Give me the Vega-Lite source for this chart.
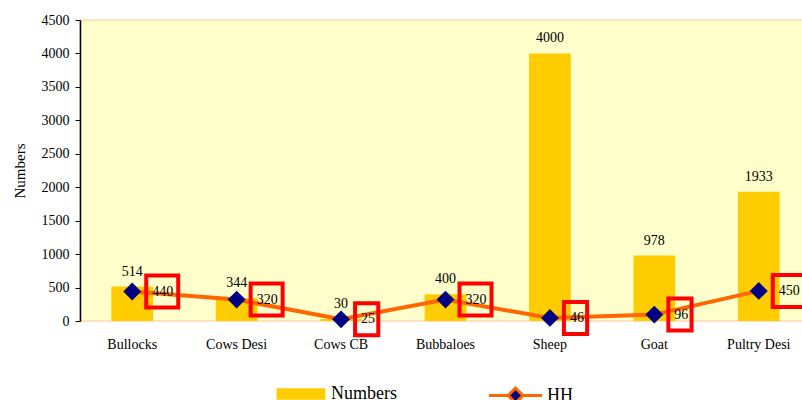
{
  "$schema": "https://vega.github.io/schema/vega-lite/v6.json",
  "width": 731,
  "height": 301,
  "autosize": {"type": "none"},
  "padding": {"left": 80, "top": 20, "right": 0, "bottom": 79},
  "background": "#FFFFFF",
  "config": {
    "font": "Liberation Serif",
    "view": {"fill": "#FFFFCC", "stroke": "#FFD9B0", "strokeWidth": 1.5},
    "axisY": {
      "titleFontSize": 15,
      "titleFontWeight": "normal",
      "titleColor": "#000000",
      "titlePadding": 14,
      "grid": false,
      "domainColor": "#000000",
      "domainWidth": 1.5,
      "tickColor": "#000000",
      "tickSize": 5,
      "tickCount": 10,
      "labelPadding": 6,
      "labelFontSize": 14,
      "labelColor": "#000000",
      "labelOverlap": false,
      "format": "d"
    }
  },
  "data": {
    "values": [
      {"cat": "Bullocks", "Numbers": 514, "HH": 440},
      {"cat": "Cows Desi", "Numbers": 344, "HH": 320},
      {"cat": "Cows CB", "Numbers": 30, "HH": 25},
      {"cat": "Bubbaloes", "Numbers": 400, "HH": 320},
      {"cat": "Sheep", "Numbers": 4000, "HH": 46},
      {"cat": "Goat", "Numbers": 978, "HH": 96},
      {"cat": "Pultry Desi", "Numbers": 1933, "HH": 450}
    ]
  },
  "encoding": {
    "x": {
      "field": "cat",
      "type": "nominal",
      "sort": null,
      "scale": {"paddingInner": 0.6, "paddingOuter": 0.3},
      "axis": {
        "title": null,
        "labelAngle": 0,
        "domain": false,
        "ticks": false,
        "tickSize": 0,
        "labelPadding": 16,
        "labelFontSize": 14,
        "labelColor": "#000000"
      }
    }
  },
  "layer": [
    {
      "mark": {"type": "bar"},
      "encoding": {
        "y": {
          "field": "Numbers",
          "type": "quantitative",
          "scale": {"domain": [0, 4500], "nice": false},
          "axis": {"title": "Numbers"}
        },
        "fill": {
          "datum": "Numbers",
          "scale": {"range": ["#FFCC00"]},
          "legend": {
            "title": null,
            "orient": "none",
            "legendX": 210,
            "legendY": 363,
            "symbolType": "M-2.3,-0.55H2.3V0.55H-2.3Z",
            "symbolSize": 450,
            "symbolStrokeWidth": 0,
            "labelOffset": 19,
            "labelFontSize": 18,
            "labelColor": "#000000",
            "labelFont": "Liberation Serif"
          }
        }
      }
    },
    {
      "mark": {"type": "line", "strokeWidth": 4},
      "encoding": {
        "y": {"field": "HH", "type": "quantitative", "axis": {"title": "Numbers"}},
        "stroke": {
          "datum": "HH",
          "scale": {"range": ["#FF6600"]},
          "legend": {
            "title": null,
            "orient": "none",
            "legendX": 423,
            "legendY": 363,
            "symbolType": "M-2.5,0H-0.7M0.7,0H2.5M0,-0.7L0.7,0L0,0.7L-0.7,0Z",
            "symbolSize": 450,
            "symbolStrokeWidth": 3,
            "labelOffset": 19,
            "labelFontSize": 18,
            "labelColor": "#000000",
            "labelFont": "Liberation Serif",
            "encode": {"symbols": {"update": {"fill": {"value": "#000080"}}}}
          }
        }
      }
    },
    {
      "mark": {"type": "point", "shape": "diamond", "filled": true, "size": 320, "color": "#000080", "opacity": 1},
      "encoding": {"y": {"field": "HH", "type": "quantitative", "axis": {"title": "Numbers"}}}
    },
    {
      "mark": {"type": "text", "align": "center", "baseline": "alphabetic", "dy": -11, "fontSize": 14, "color": "#000000"},
      "encoding": {
        "y": {"field": "Numbers", "type": "quantitative", "axis": {"title": "Numbers"}},
        "text": {"field": "Numbers", "type": "quantitative", "format": "d"}
      }
    },
    {
      "mark": {"type": "text", "align": "left", "baseline": "middle", "dx": 20, "fontSize": 14, "color": "#000000"},
      "encoding": {
        "y": {"field": "HH", "type": "quantitative", "axis": {"title": "Numbers"}},
        "text": {"field": "HH", "type": "quantitative", "format": "d"}
      }
    },
    {
      "mark": {"type": "point", "filled": false, "size": 1024, "stroke": "#FF0000", "strokeWidth": 4, "xOffset": 30, "opacity": 1},
      "encoding": {
        "y": {"field": "HH", "type": "quantitative", "axis": {"title": "Numbers"}},
        "shape": {
          "condition": {"test": "datum.HH < 100", "value": "M-1,-1H0.45V1H-1Z"},
          "value": "square"
        }
      }
    }
  ]
}
